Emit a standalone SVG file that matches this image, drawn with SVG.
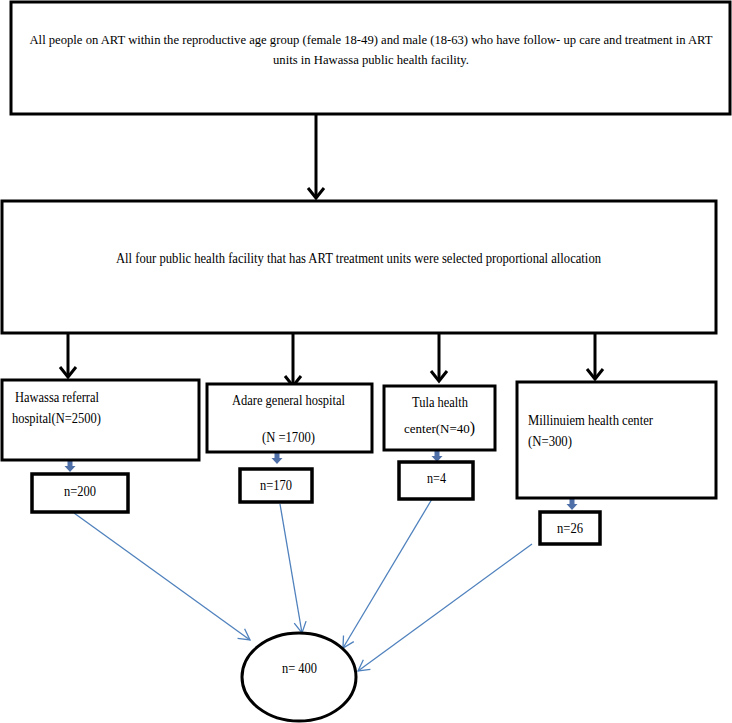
<svg xmlns="http://www.w3.org/2000/svg" width="732" height="723" viewBox="0 0 732 723">
<style>
.box{fill:#fff;stroke:#000;stroke-width:3}
.nbox{fill:#fff;stroke:#000;stroke-width:3.5}
text{font-family:'Liberation Serif','Times New Roman','DejaVu Serif',serif;font-size:15px;fill:#000}
.c{text-anchor:middle}
.blk{stroke:#000;stroke-width:3;fill:none}
.blu{stroke:#4F81BD;stroke-width:1.3;fill:none}
</style>
<defs>
<marker id="ah" markerUnits="userSpaceOnUse" markerWidth="22" markerHeight="22" refX="11" refY="11" orient="auto" viewBox="0 0 22 22">
<path d="M1,3 L11,11 L1,19" fill="none" stroke="#000" stroke-width="3"/>
</marker>
<marker id="bh" markerUnits="userSpaceOnUse" markerWidth="16" markerHeight="16" refX="13" refY="8" orient="auto" viewBox="0 0 16 16">
<path d="M2,2 L13,8 L2,14" fill="none" stroke="#4F81BD" stroke-width="1.3"/>
</marker>
<path id="barr" d="M-2.5,0 H2.5 V7 H5.5 L0,13 L-5.5,7 H-2.5 Z" fill="#4F6FA8"/>
</defs>

<g id="connectors">
<line class="blk" x1="316" y1="114" x2="316" y2="198" marker-end="url(#ah)"/>
<line class="blk" x1="68" y1="334" x2="68" y2="377" marker-end="url(#ah)"/>
<line class="blk" x1="293" y1="334" x2="293" y2="386" marker-end="url(#ah)"/>
<line class="blk" x1="439" y1="334" x2="439" y2="381" marker-end="url(#ah)"/>
<line class="blk" x1="595" y1="331" x2="595" y2="379" marker-end="url(#ah)"/>
<use href="#barr" x="70" y="459"/>
<use href="#barr" x="277" y="451"/>
<use href="#barr" x="437" y="449"/>
<use href="#barr" x="572" y="497"/>
<line class="blu" x1="74" y1="513" x2="250" y2="640" marker-end="url(#bh)"/>
<line class="blu" x1="280" y1="504" x2="302" y2="633" marker-end="url(#bh)"/>
<line class="blu" x1="432" y1="499" x2="343" y2="648" marker-end="url(#bh)"/>
<line class="blu" x1="532" y1="544" x2="358" y2="671" marker-end="url(#bh)"/>
</g>

<g id="n-population">
<rect class="box" x="11" y="2" width="719" height="112"/>
<text class="c" x="371" y="44" style="font-size:12.75px" textLength="683" lengthAdjust="spacingAndGlyphs">All people on ART within the reproductive age group (female 18-49) and male (18-63) who have follow- up care and treatment in ART</text>
<text class="c" x="371" y="64" style="font-size:12.75px" textLength="196" lengthAdjust="spacingAndGlyphs">units in Hawassa public health facility.</text>
</g>

<g id="n-facilities">
<rect class="box" x="2" y="201" width="714" height="132"/>
<text class="c" x="358.5" y="263" textLength="485" lengthAdjust="spacingAndGlyphs">All four public health facility that has ART treatment units were selected proportional allocation</text>
</g>

<g id="n-hawassa">
<rect class="box" x="2" y="380" width="197" height="80"/>
<text x="15" y="402" textLength="84" lengthAdjust="spacingAndGlyphs">Hawassa referral</text>
<text x="12" y="423" textLength="89" lengthAdjust="spacingAndGlyphs">hospital(N=2500)</text>
</g>

<g id="n-adare">
<rect class="box" x="207" y="384" width="165" height="68"/>
<text x="232" y="405" textLength="113" lengthAdjust="spacingAndGlyphs">Adare general hospital</text>
<text x="262" y="442" textLength="53" lengthAdjust="spacingAndGlyphs">(N =1700)</text>
</g>

<g id="n-tula">
<rect class="box" x="384" y="386" width="111" height="64"/>
<text x="412" y="407" textLength="56" lengthAdjust="spacingAndGlyphs">Tula health</text>
<text x="404" y="433" style="font-size:13px">center(N=40<tspan style="font-size:16px">)</tspan></text>
</g>

<g id="n-millinuiem">
<rect class="box" x="517" y="382" width="199" height="116"/>
<text x="528" y="425" textLength="125" lengthAdjust="spacingAndGlyphs">Millinuiem health center</text>
<text x="528" y="446" textLength="44" lengthAdjust="spacingAndGlyphs">(N=300)</text>
</g>

<g id="n-200">
<rect class="nbox" x="32" y="474" width="96" height="38"/>
<text x="64" y="496" textLength="32" lengthAdjust="spacingAndGlyphs">n=200</text>
</g>

<g id="n-170">
<rect class="nbox" x="240" y="469" width="72" height="33"/>
<text x="260" y="490" textLength="32" lengthAdjust="spacingAndGlyphs">n=170</text>
</g>

<g id="n-4">
<rect class="nbox" x="399" y="462" width="74" height="37"/>
<text x="427" y="483" textLength="19" lengthAdjust="spacingAndGlyphs">n=4</text>
</g>

<g id="n-26">
<rect class="nbox" x="540" y="512" width="60" height="32"/>
<text x="557" y="533" textLength="26" lengthAdjust="spacingAndGlyphs">n=26</text>
</g>

<g id="n-total">
<ellipse cx="299" cy="677" rx="57" ry="44" fill="#fff" stroke="#000" stroke-width="3"/>
<text x="282" y="673" textLength="35" lengthAdjust="spacingAndGlyphs">n= 400</text>
</g>
</svg>
